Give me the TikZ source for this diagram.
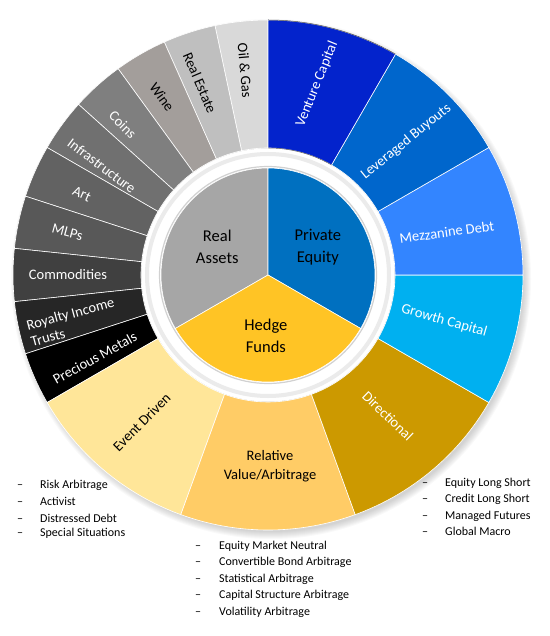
\documentclass[tikz,border=0pt]{standalone}
\usepackage{fontspec}
\setmainfont{Carlito}
\usepackage{tikz}
\usetikzlibrary{positioning}

\definecolor{racol}{HTML}{A6A6A6}
\definecolor{pecol}{HTML}{0070C0}
\definecolor{hfcol}{HTML}{FFC425}
\definecolor{oilcol}{HTML}{D9D9D9}
\definecolor{estatecol}{HTML}{BFBFBF}
\definecolor{winecol}{HTML}{A39E9B}
\definecolor{coinscol}{HTML}{7F7F7F}
\definecolor{infracol}{HTML}{707070}
\definecolor{artcol}{HTML}{626262}
\definecolor{mlpcol}{HTML}{585858}
\definecolor{commodcol}{HTML}{404040}
\definecolor{royaltycol}{HTML}{262626}
\definecolor{metalcol}{HTML}{000000}
\definecolor{venturecol}{HTML}{0323CC}
\definecolor{lbocol}{HTML}{0066CC}
\definecolor{mezzcol}{HTML}{3385FF}
\definecolor{growthcol}{HTML}{00B0F0}
\definecolor{directcol}{HTML}{CC9900}
\definecolor{relvalcol}{HTML}{FFCC66}
\definecolor{eventcol}{HTML}{FFE699}

\tikzset{
  segment/.style={draw=white, line width=0.6pt},
  seglabel/.style={font=\fontsize{14.5}{17}\selectfont, text=white, inner sep=1pt, align=center},
  darklabel/.style={seglabel, text=black},
  corelabel/.style={font=\fontsize{16.5}{22}\selectfont, align=center, inner sep=1pt},
  listitem/.style={font=\fontsize{12}{14}\selectfont, anchor=west, inner sep=0pt}
}

\begin{document}
\begin{tikzpicture}[x=1pt, y=1pt]
  \useasboundingbox (-268,-361) rectangle (281,275);

  % soft shadow under the ring
  \foreach \i in {1,...,8}
    \fill[black, opacity=0.025] (3,-4) circle (252+\i);

  % outer ring
  \foreach \s/\e/\c in {90/102/oilcol, 102/114/estatecol, 114/126/winecol, 126/138/coinscol,
      138/150/infracol, 150/162/artcol, 162/174/mlpcol, 174/186/commodcol, 186/198/royaltycol,
      198/210/metalcol, 210/250/eventcol, 250/290/relvalcol, 290/330/directcol,
      -30/0/growthcol, 0/30/mezzcol, 30/60/lbocol, 60/90/venturecol}
    \draw[segment, fill=\c] (\s:127) arc[start angle=\s, end angle=\e, radius=127]
      -- (\e:255) arc[start angle=\e, end angle=\s, radius=255] -- cycle;
  \draw[black!70, line width=0.5pt] (90:255) arc[start angle=90, end angle=60, radius=255];
  \draw[black!70, line width=0.5pt] (90:127) arc[start angle=90, end angle=60, radius=127];

  % white band round the core
  \fill[white] (0,0) circle (126.5);
  \draw[black!8, line width=4pt] (0,0) circle (121);
  \draw[black!18, line width=1.2pt] (0,0) circle (108.5);

  % core
  \draw[segment, fill=racol] (0,0) -- (90:107) arc[start angle=90, end angle=210, radius=107] -- cycle;
  \draw[segment, fill=pecol] (0,0) -- (-30:107) arc[start angle=-30, end angle=90, radius=107] -- cycle;
  \draw[segment, fill=hfcol] (0,0) -- (210:107) arc[start angle=210, end angle=330, radius=107] -- cycle;

  \node (realassets) [corelabel] at (151:58) {Real\\Assets};
  \node (privequity) [corelabel] at (29:57) {Private\\Equity};
  \node (hedgefunds) [corelabel] at (-92:61) {Hedge\\Funds};

  % real assets
  \node (oilgas)    [darklabel, rotate=-85] at (96.4:206) {Oil \& Gas};
  \node (realest)   [darklabel, rotate=-67] at (109.5:204) {Real Estate};
  \node (wine)      [darklabel, rotate=-54] at (120.8:207) {Wine};
  \node (coins)     [seglabel, rotate=-45] at (134:209) {Coins};
  \node (infra)     [seglabel, rotate=-37] at (146.7:199) {Infrastructure};
  \node (art)       [seglabel, rotate=-24] at (156.5:203) {Art};
  \node (mlps)      [seglabel, rotate=-15] at (168:205) {MLPs};
  \node (commod)    [seglabel] at (180:200) {Commodities};
  \node (royalty)   [seglabel, rotate=15, align=left] at (193.5:201) {Royalty Income\\Trusts};
  \node (metals)    [seglabel, rotate=29] at (205.6:192) {Precious Metals};

  % private equity
  \node (venture)   [seglabel, rotate=68] at (75.6:197) {Venture Capital};
  \node (buyouts)   [seglabel, rotate=39] at (44:192) {Leveraged Buyouts};
  \node (mezzanine) [seglabel, rotate=8] at (13.5:184) {Mezzanine Debt};
  \node (growth)    [seglabel, rotate=-16] at (-14.6:182) {Growth Capital};

  % hedge funds
  \node (directional) [seglabel, rotate=-44] at (-49.6:185) {Directional};
  \node (relvalue)    [darklabel, font=\fontsize{14.5}{19}\selectfont] at (-89.4:191) {Relative\\Value/Arbitrage};
  \node (eventdriven) [darklabel, rotate=45] at (-130.6:194) {Event Driven};

  % strategy lists
  \foreach \t/\y [count=\i] in {Risk Arbitrage/-210, Activist/-226, Distressed Debt/-243, Special Situations/-258}
    \node (evitem\i) [listitem] at (-251,\y) {\makebox[23pt][l]{–}\t};
  \foreach \t/\y [count=\i] in {Equity Market Neutral/-271, Convertible Bond Arbitrage/-287,
      Statistical Arbitrage/-304, Capital Structure Arbitrage/-320, Volatility Arbitrage/-337}
    \node (rvitem\i) [listitem] at (-73,\y) {\makebox[24pt][l]{–}\t};
  \foreach \t/\y [count=\i] in {Equity Long Short/-208, Credit Long Short/-224, Managed Futures/-241, Global Macro/-256}
    \node (dritem\i) [listitem] at (154,\y) {\makebox[23pt][l]{–}\t};
\end{tikzpicture}
\end{document}
